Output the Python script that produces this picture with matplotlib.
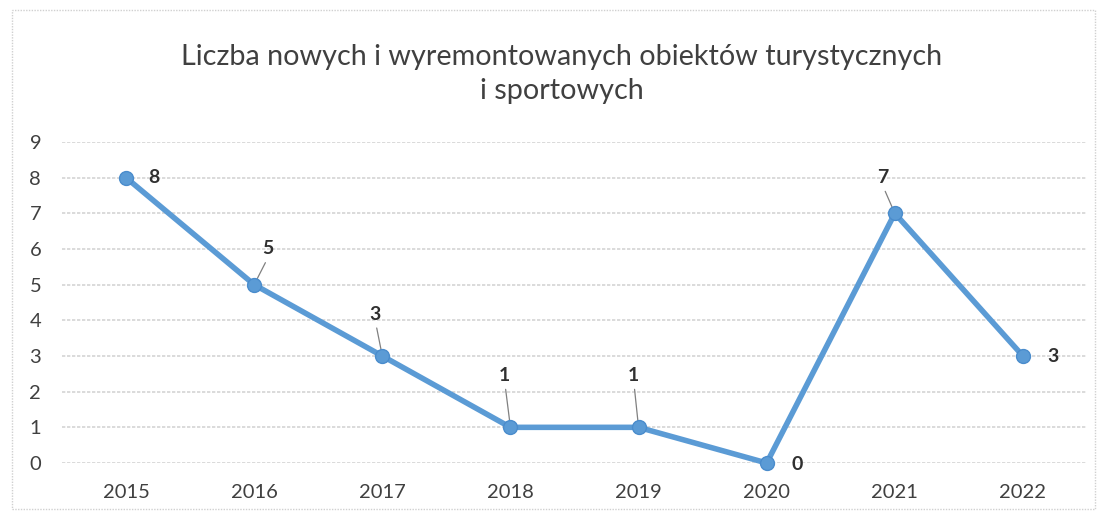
import matplotlib.pyplot as plt
from matplotlib.patches import Rectangle

plt.rcParams['font.family'] = ['Lato', 'DejaVu Sans']

years = ['2015', '2016', '2017', '2018', '2019', '2020', '2021', '2022']
values = [8, 5, 3, 1, 1, 0, 7, 3]
title = 'Liczba nowych i wyremontowanych obiektów turystycznych\ni sportowych'
# label offsets in pixels, and whether a leader line is drawn
label_offsets = [(28, 0), (14, 36), (-7, 42), (-6, 52), (-5, 52), (30, -2), (-12, 36), (30, 0)]
leaders = [False, True, True, True, True, False, True, False]

fig = plt.figure(figsize=(11.06, 5.16), dpi=100)
fig.patches.append(Rectangle((12 / 1106, 1 - 509 / 516), 1083 / 1106, 499 / 516,
                             transform=fig.transFigure, fill=False,
                             edgecolor='#d0d0d0', linewidth=1, linestyle=(0, (1, 1))))
ax = fig.add_axes([62 / 1106, 1 - 463 / 516, 1025 / 1106, 321 / 516])

x = list(range(len(years)))
ax.plot(x, values, color='#5b9bd5', linewidth=4, marker='o', markersize=10,
        markerfacecolor='#5b9bd5', markeredgecolor='#4a8ccc', zorder=3,
        solid_capstyle='round', clip_on=False)

for i, v in enumerate(values):
    dx, dy = label_offsets[i]
    ax.annotate(str(v), (i, v), xytext=(dx, dy), textcoords='offset pixels',
                ha='center', va='center', fontsize=14, fontweight='bold',
                color='#303030', zorder=4)
    if leaders[i]:
        ax.annotate('', (i, v), xytext=(dx * 0.8, dy - 14), textcoords='offset pixels',
                    arrowprops=dict(arrowstyle='-', color='#808080', lw=0.9,
                                    shrinkA=0, shrinkB=2), zorder=2)

ax.set_xlim(-0.5, len(years) - 0.5)
ax.set_ylim(0, 9)
ax.set_yticks(range(10))
ax.set_xticks(x)
ax.set_xticklabels(years)
ax.grid(axis='y', color='#d4d4d4', linewidth=1.2, linestyle=(0, (2, 1)))
ax.set_axisbelow(True)
for s in ax.spines.values():
    s.set_visible(False)
ax.tick_params(length=0, labelsize=14.5, labelcolor='#404040')
ax.tick_params(axis='y', pad=15)
ax.tick_params(axis='x', pad=15)

fig.text(0.508, 1 - 74 / 516, title, ha='center', va='center', fontsize=20.7,
         color='#404040', linespacing=1.39)

fig.savefig('out.png', dpi=100)
